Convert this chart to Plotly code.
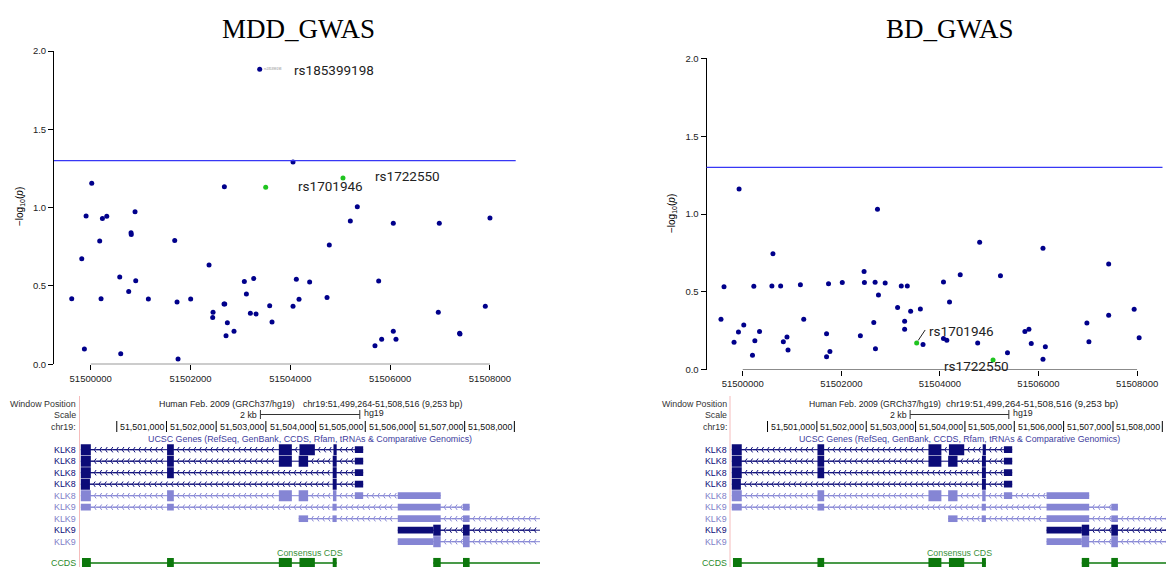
import numpy as np
import plotly.graph_objects as go

W, H = 1166, 567


def fx(p):
    return p / W


def fy(p):
    return 1 - p / H


# ---------------------------------------------------------------- data
window = [51499264, 51508516]
x_ticks = [51500000, 51502000, 51504000, 51506000, 51508000]
x_tick_text = ["51500000", "51502000", "51504000", "51506000", "51508000"]
y_ticks = [0.0, 0.5, 1.0, 1.5, 2.0]
y_tick_text = ["0.0", "0.5", "1.0", "1.5", "2.0"]
threshold = 1.3

mdd_pos = [51499619, 51499820, 51499873, 51499907, 51500020, 51500180, 51500207, 51500234,
           51500321, 51500581, 51500601, 51500761, 51500808, 51500812, 51500888, 51500902,
           51501155, 51501683, 51501730, 51501750, 51502003, 51502371, 51502444, 51502451,
           51502671, 51502678, 51502685, 51502711, 51502738, 51502871, 51503078, 51503119,
           51503199, 51503266, 51503312, 51503586, 51503633, 51504054, 51504054, 51504120,
           51504174, 51504387, 51504735, 51504781, 51505202, 51505342, 51505696, 51505770,
           51505830, 51506063, 51506063, 51506117, 51506965, 51506985, 51507392, 51507399,
           51507907, 51508000]
mdd_logp = [0.419, 0.674, 0.098, 0.947, 1.155, 0.787, 0.419, 0.930,
            0.945, 0.557, 0.068, 0.464, 0.840, 0.828, 0.974, 0.534,
            0.417, 0.791, 0.398, 0.034, 0.417, 0.634, 0.298, 0.332,
            0.385, 1.134, 0.385, 0.183, 0.266, 0.211, 0.528, 0.449,
            0.326, 0.547, 0.321, 0.374, 0.270, 0.370, 1.291, 0.543,
            0.415, 0.526, 0.426, 0.762, 0.915, 1.006, 0.119, 0.532,
            0.160, 0.900, 0.211, 0.160, 0.332, 0.900, 0.198, 0.194,
            0.370, 0.934]
mdd_top_name = "rs185399198"
mdd_top_pos = 51503386
mdd_top_logp = 1.883

bd_pos = [51499558, 51499619, 51499823, 51499912, 51499925, 51500020, 51500197, 51500224,
          51500245, 51500340, 51500591, 51500612, 51500768, 51500823, 51500897, 51500918,
          51501169, 51501237, 51501700, 51501700, 51501740, 51501768, 51502019, 51502386,
          51502461, 51502468, 51502658, 51502685, 51502692, 51502733, 51502753, 51502889,
          51503141, 51503216, 51503284, 51503284, 51503338, 51503406, 51503603, 51503657,
          51504072, 51504072, 51504140, 51504195, 51504412, 51504766, 51504806, 51505228,
          51505371, 51505724, 51505806, 51505853, 51506091, 51506091, 51506139, 51506982,
          51507023, 51507424, 51507424, 51507941, 51508042]
bd_logp = [0.324, 0.533, 0.175, 0.241, 1.161, 0.286, 0.092, 0.535,
           0.185, 0.245, 0.537, 0.744, 0.537, 0.179, 0.209, 0.126,
           0.546, 0.324, 0.230, 0.083, 0.552, 0.117, 0.559, 0.217,
           0.631, 0.559, 0.303, 0.561, 0.134, 1.030, 0.480, 0.557,
           0.399, 0.537, 0.311, 0.260, 0.537, 0.375, 0.390, 0.162,
           0.563, 0.200, 0.188, 0.435, 0.610, 0.171, 0.819, 0.603,
           0.109, 0.245, 0.260, 0.168, 0.780, 0.066, 0.147, 0.299,
           0.179, 0.678, 0.350, 0.388, 0.205]

snp_names = ["rs1701946", "rs1722550"]
mdd_snp_pos = [51503506, 51505055]
mdd_snp_logp = [1.130, 1.189]
bd_snp_pos = [51503528, 51505078]
bd_snp_logp = [0.171, 0.062]

# UCSC gene track (genomic coordinates)
track_genes = ["KLK8", "KLK8", "KLK8", "KLK8", "KLK8", "KLK9", "KLK9", "KLK9", "KLK9"]
track_dark = [True, True, True, True, False, False, False, True, False]
track_start = [51499275, 51499275, 51499275, 51499275, 51499275, 51499275, 51503660, 51505654, 51505654]
track_end = [51504958, 51504958, 51504958, 51504958, 51506518, 51507100, 51508516, 51508516, 51508516]
# exons: (start, end, thick?)
track_exons = [
    [(51499275, 51499478, 1), (51501012, 51501148, 1), (51503261, 51503523, 1),
     (51503676, 51503986, 1), (51504360, 51504425, 1), (51504790, 51504958, 0)],
    [(51499275, 51499478, 1), (51501012, 51501148, 1), (51503261, 51503523, 1),
     (51503660, 51503850, 1), (51504345, 51504425, 1), (51504790, 51504958, 0)],
    [(51499275, 51499478, 1), (51501012, 51501148, 1),
     (51504345, 51504425, 1), (51504790, 51504958, 0)],
    [(51499275, 51499460, 1), (51504345, 51504425, 1), (51504790, 51504958, 0)],
    [(51499275, 51499478, 1), (51501012, 51501148, 1), (51503261, 51503523, 1),
     (51503660, 51503850, 1), (51504350, 51504420, 1), (51504790, 51504958, 0),
     (51505654, 51506518, 0)],
    [(51499275, 51499478, 0), (51501012, 51501148, 0), (51504340, 51504425, 0),
     (51505654, 51506518, 0), (51506966, 51507100, 0)],
    [(51503660, 51503850, 0), (51504340, 51504425, 0), (51505654, 51506518, 0),
     (51506966, 51507100, 0)],
    [(51505654, 51506368, 0), (51506368, 51506518, 1), (51506966, 51507100, 1)],
    [(51505654, 51506368, 0), (51506368, 51506518, 1), (51506966, 51507100, 1)],
]
ccds_spans = [(51499300, 51504425), (51506368, 51508516)]
ccds_exons = [(51499300, 51499478), (51501012, 51501148), (51503261, 51503523),
              (51503676, 51503986), (51504345, 51504425), (51506368, 51506518),
              (51506966, 51507100)]
ruler_ticks = [51500000, 51501000, 51502000, 51503000, 51504000, 51505000, 51506000, 51507000, 51508000]
ruler_text = ["", "51,501,000", "51,502,000", "51,503,000", "51,504,000", "51,505,000",
              "51,506,000", "51,507,000", "51,508,000"]
scale_bar_bp = 2000

# ---------------------------------------------------------------- style
DOT = "#00008b"
GREEN_DOT = "#1fc41f"
NAVY = "#0c0c78"
LIGHT = "#8585d4"
CCDS_GREEN = "#0c780c"
SANS = "Liberation Sans, Arial, sans-serif"
LABEL_FONT = "Roboto, sans-serif"

fig = go.Figure()
shapes = []
annotations = []

# ---------------------------------------------------------------- scatter panels
panels = [
    dict(title="MDD_GWAS", tx=298, pos=mdd_pos, logp=mdd_logp, spos=mdd_snp_pos, slogp=mdd_snp_logp,
         xa="x", ya="y", ylab_x=20, ylab_y=207),
    dict(title="BD_GWAS", tx=950, pos=bd_pos, logp=bd_logp, spos=bd_snp_pos, slogp=bd_snp_logp,
         xa="x2", ya="y2", ylab_x=672, ylab_y=214),
]
for p in panels:
    fig.add_trace(go.Scatter(x=p["pos"], y=p["logp"], mode="markers",
                             marker=dict(size=5, color=DOT), xaxis=p["xa"], yaxis=p["ya"],
                             showlegend=False, hoverinfo="skip", cliponaxis=False))
    fig.add_trace(go.Scatter(x=p["spos"], y=p["slogp"], mode="markers",
                             marker=dict(size=5, color=GREEN_DOT), xaxis=p["xa"], yaxis=p["ya"],
                             showlegend=False, hoverinfo="skip", cliponaxis=False))
    shapes.append(dict(type="line", xref=p["xa"] + " domain", yref=p["ya"], x0=0, x1=1,
                       y0=threshold, y1=threshold, line=dict(color="#3737f5", width=1.2)))
    shapes.append(dict(type="line", xref=p["xa"], yref=p["ya"], x0=x_ticks[0], x1=x_ticks[-1],
                       y0=0, y1=0, line=dict(color="#000", width=1)))
    annotations.append(dict(text=p["title"], xref="paper", yref="paper", x=fx(p["tx"]), y=fy(29),
                            showarrow=False, xanchor="center", yanchor="middle",
                            font=dict(family="Liberation Serif, Times New Roman, serif", size=27,
                                      color="#000")))
    annotations.append(dict(text="\u2212log<sub>10</sub>(<i>p</i>)", xref="paper", yref="paper",
                            x=fx(p["ylab_x"]), y=fy(p["ylab_y"]), textangle=-90, showarrow=False,
                            xanchor="center", yanchor="middle",
                            font=dict(family=SANS, size=10, color="#000")))

fig.add_trace(go.Scatter(x=[mdd_top_pos], y=[mdd_top_logp], mode="markers",
                         marker=dict(size=5, color=DOT), xaxis="x", yaxis="y",
                         showlegend=False, hoverinfo="skip"))
annotations.append(dict(text=mdd_top_name, xref="x", yref="y", x=mdd_top_pos, y=mdd_top_logp,
                        xanchor="left", yanchor="middle", xshift=2, showarrow=False,
                        font=dict(family=SANS, size=3, color="#888")))
annotations.append(dict(text=mdd_top_name, xref="x", yref="y", x=mdd_top_pos, y=mdd_top_logp,
                        xanchor="left", yanchor="middle", xshift=32, yshift=-1, showarrow=False,
                        font=dict(family=LABEL_FONT, size=13.5, color="#222")))
# SNP labels, left panel
for name, xs, ys, dx, dy in zip(snp_names, mdd_snp_pos, mdd_snp_logp, [30, 30], [1, 2]):
    annotations.append(dict(text=name, xref="x", yref="y", x=xs, y=ys, xanchor="left",
                            yanchor="middle", xshift=dx, yshift=dy, showarrow=False,
                            font=dict(family=LABEL_FONT, size=13.5, color="#222")))
# SNP labels, right panel
for name, xs, ys, dx, dy in zip(snp_names, bd_snp_pos, bd_snp_logp, [10.5, -51], [12, -6.5]):
    annotations.append(dict(text=name, xref="x2", yref="y2", x=xs, y=ys, xanchor="left",
                            yanchor="middle", xshift=dx, yshift=dy, showarrow=False,
                            font=dict(family=LABEL_FONT, size=13.5, color="#222")))
shapes.append(dict(type="line", xref="x2", yref="y2", xsizemode="pixel", ysizemode="pixel",
                   xanchor=bd_snp_pos[0], yanchor=bd_snp_logp[0], x0=1.5, x1=8.5, y0=2.5, y1=13,
                   line=dict(color="#222", width=1)))

# ---------------------------------------------------------------- gene tracks
ROW0, PITCH = 449.7, 11.5
TRACK_TOP = 392
y_top = (TRACK_TOP - ROW0) / PITCH
y_bot = (H - ROW0) / PITCH
CCDS_ROW = (563 - ROW0) / PITCH
THICK, THIN, CCDS_H = 0.96, 0.58, 0.88

tracks = [
    dict(xa="x3", ya="y3", lab=78, pink=79.5, fs=8.9,
         head=[(157, "Human Feb. 2009 (GRCh37/hg19)", 8.85),
               (301, "chr19:51,499,264-51,508,516 (9,253 bp)", 8.9)]),
    dict(xa="x4", ya="y4", lab=728.8, pink=730, fs=8.8,
         head=[(806.5, "Human Feb. 2009 (GRCh37/hg19)", 8.6),
               (944, "chr19:51,499,264-51,508,516 (9,253 bp)", 9.6)]),
]
center_bp = (window[0] + window[1]) / 2
CHEV = 112

for t in tracks:
    xa, ya, fs = t["xa"], t["ya"], t["fs"]
    lab_x = fx(t["lab"])
    shapes.append(dict(type="line", xref="paper", yref="paper", x0=fx(t["pink"]), x1=fx(t["pink"]),
                       y0=fy(396), y1=0, line=dict(color="#f5bcbc", width=1)))
    for txt, yy in [("Window Position", 403.5), ("Scale", 415), ("chr19:", 426.5)]:
        annotations.append(dict(text=txt, xref="paper", yref="paper", x=lab_x, y=fy(yy),
                                xanchor="right", yanchor="middle", showarrow=False,
                                font=dict(family=SANS, size=fs, color="#333")))
    for left_px, txt, size in t["head"]:
        annotations.append(dict(text=txt, xref="paper", yref="paper", x=fx(left_px), y=fy(403.5),
                                xanchor="left", yanchor="middle", showarrow=False,
                                font=dict(family=SANS, size=size, color="#222")))
    # scale bar
    b0, b1 = center_bp - scale_bar_bp / 2, center_bp + scale_bar_bp / 2
    shapes.append(dict(type="line", xref=xa, yref="paper", x0=b0, x1=b1, y0=fy(414.5), y1=fy(414.5),
                       line=dict(color="#333", width=1)))
    for bb in (b0, b1):
        shapes.append(dict(type="line", xref=xa, yref="paper", x0=bb, x1=bb, y0=fy(410), y1=fy(419),
                           line=dict(color="#333", width=1)))
    annotations.append(dict(text="2 kb", xref=xa, yref="paper", x=b0, y=fy(414.5), xanchor="right",
                            yanchor="middle", xshift=-1, showarrow=False,
                            font=dict(family=SANS, size=fs, color="#222")))
    annotations.append(dict(text="hg19", xref=xa, yref="paper", x=b1, y=fy(413), xanchor="left",
                            yanchor="middle", xshift=2, showarrow=False,
                            font=dict(family=SANS, size=fs, color="#222")))
    # ruler
    for tk, tt in zip(ruler_ticks, ruler_text):
        shapes.append(dict(type="line", xref=xa, yref="paper", x0=tk, x1=tk, y0=fy(421), y1=fy(432),
                           line=dict(color="#000", width=1)))
        if tt:
            annotations.append(dict(text=tt, xref=xa, yref="paper", x=tk, y=fy(426.5), xanchor="right",
                                    yanchor="middle", xshift=0, showarrow=False,
                                    font=dict(family=SANS, size=fs, color="#111")))
    annotations.append(dict(text="UCSC Genes (RefSeq, GenBank, CCDS, Rfam, tRNAs &amp; Comparative Genomics)",
                            xref=xa, yref="paper", x=center_bp, y=fy(439.3), xanchor="center",
                            yanchor="middle", showarrow=False,
                            font=dict(family=SANS, size=fs, color="#3d3d9e")))
    annotations.append(dict(text="Consensus CDS", xref=xa, yref="paper", x=center_bp, y=fy(553.3),
                            xanchor="center", yanchor="middle", showarrow=False,
                            font=dict(family=SANS, size=fs, color="#3a913a")))
    annotations.append(dict(text="CCDS", xref="paper", yref=ya, x=lab_x, y=CCDS_ROW,
                            xanchor="right", yanchor="middle", showarrow=False,
                            font=dict(family=SANS, size=fs, color="#2a8a2a")))

    chev = {True: ([], []), False: ([], [])}
    for r, (g, dark, s0, s1, exons) in enumerate(zip(track_genes, track_dark, track_start,
                                                       track_end, track_exons)):
        col = NAVY if dark else LIGHT
        annotations.append(dict(text=g, xref="paper", yref=ya, x=lab_x, y=r, xanchor="right",
                                yanchor="middle", showarrow=False,
                                font=dict(family=SANS, size=fs, color=NAVY if dark else "#8080c8")))
        shapes.append(dict(type="line", xref=xa, yref=ya, x0=s0, x1=s1, y0=r, y1=r, layer="below",
                           line=dict(color=col, width=1)))
        # introns -> direction chevrons
        bounds = [s0] + [v for e in exons for v in e[:2]] + [s1]
        for a, b in zip(bounds[0::2], bounds[1::2]):
            if b - a > 150:
                xs = np.arange(a + 70, b - 40, CHEV)
                chev[dark][0].extend(xs.tolist())
                chev[dark][1].extend([r] * len(xs))
        for e0, e1, thick in exons:
            hh = (THICK if thick else THIN) / 2
            shapes.append(dict(type="rect", xref=xa, yref=ya, x0=e0, x1=e1, y0=r - hh, y1=r + hh,
                               fillcolor=col, line=dict(width=0), layer="above"))
    for dark, (cx, cy) in chev.items():
        col = NAVY if dark else LIGHT
        fig.add_trace(go.Scatter(x=cx, y=cy, mode="markers", xaxis=xa, yaxis=ya,
                                 marker=dict(symbol="y-left", size=4.5, color=col,
                                             line=dict(color=col, width=1)),
                                 showlegend=False, hoverinfo="skip"))
    # CCDS
    for s0, s1 in ccds_spans:
        shapes.append(dict(type="line", xref=xa, yref=ya, x0=s0, x1=s1, y0=CCDS_ROW, y1=CCDS_ROW,
                           layer="below", line=dict(color=CCDS_GREEN, width=1.3)))
    for e0, e1 in ccds_exons:
        shapes.append(dict(type="rect", xref=xa, yref=ya, x0=e0, x1=e1, y0=CCDS_ROW - CCDS_H / 2,
                           y1=CCDS_ROW + CCDS_H / 2, fillcolor=CCDS_GREEN, line=dict(width=0),
                           layer="above"))

# ---------------------------------------------------------------- axes
tickfont = dict(family=SANS, size=9.5, color="#222")
xcommon = dict(range=window, tickvals=x_ticks, ticktext=x_tick_text, ticks="outside", ticklen=5,
               tickcolor="#000", showline=False, showgrid=False, zeroline=False, tickfont=tickfont,
               automargin=False)
ycommon = dict(range=[0, 2], tickvals=y_ticks, ticktext=y_tick_text, ticks="outside", ticklen=5,
               tickcolor="#000", showline=True, linecolor="#000", linewidth=1, showgrid=False,
               zeroline=False, tickfont=tickfont, automargin=False)
hidden = dict(visible=False, showgrid=False, zeroline=False, automargin=False)
right_track_px_per_bp = 0.04935
RIGHT_TRACK_LEFT = 731.2

fig.update_layout(
    template="none",
    width=W, height=H, autosize=False,
    margin=dict(l=0, r=0, t=0, b=0, pad=0, autoexpand=False),
    paper_bgcolor="white", plot_bgcolor="rgba(0,0,0,0)", showlegend=False,
    xaxis=dict(domain=[fx(54), fx(515.7)], anchor="y", **xcommon),
    yaxis=dict(domain=[fy(364.3), fy(51)], anchor="x", **ycommon),
    xaxis2=dict(domain=[fx(706.5), fx(1162.5)], anchor="y2", **xcommon),
    yaxis2=dict(domain=[fy(369.6), fy(58.4)], anchor="x2", **ycommon),
    xaxis3=dict(domain=[fx(80.2), fx(540)], anchor="y3", range=window, **hidden),
    yaxis3=dict(domain=[0, fy(TRACK_TOP)], anchor="x3", range=[y_bot, y_top], **hidden),
    xaxis4=dict(domain=[fx(RIGHT_TRACK_LEFT), 1], anchor="y4",
                range=[window[0], window[0] + (W - RIGHT_TRACK_LEFT) / right_track_px_per_bp],
                **hidden),
    yaxis4=dict(domain=[0, fy(TRACK_TOP)], anchor="x4", range=[y_bot, y_top], **hidden),
    shapes=shapes, annotations=annotations,
)

fig.write_html("out.html", config={"displayModeBar": False},
               post_script="document.body.style.margin='0';document.body.style.overflow='hidden';")
